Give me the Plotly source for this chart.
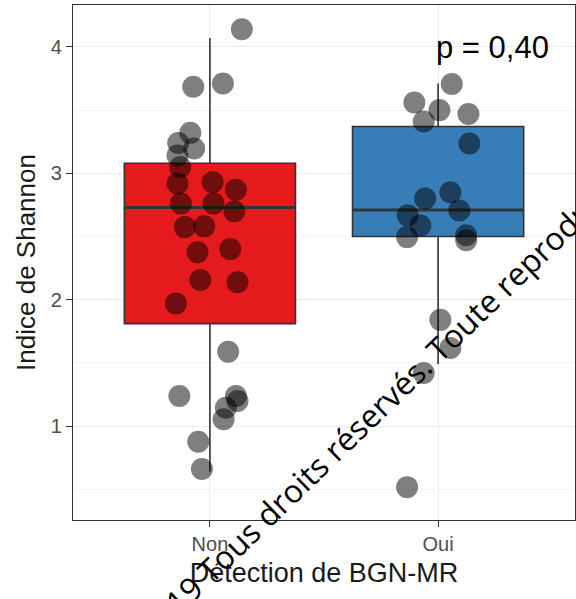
import plotly.graph_objects as go

# ---- data ----
categories = ["Non", "Oui"]

non_values = [4.14, 3.685, 3.71, 3.32, 3.24, 3.196, 3.14, 3.05,
              2.92, 2.93, 2.87, 2.76, 2.76, 2.70, 2.574, 2.58, 2.375, 2.40,
              2.156, 2.137, 1.97,
              1.587, 1.238, 1.238, 1.198, 1.145, 1.053, 0.875, 0.66]
non_jitter = [0.14, -0.073, 0.057, -0.086, -0.139, -0.069, -0.142, -0.13,
              -0.142, 0.012, 0.114, -0.127, 0.016, 0.107, -0.11, -0.025, -0.054, 0.089,
              -0.042, 0.121, -0.149,
              0.08, -0.134, 0.114, 0.121, 0.07, 0.06, -0.051, -0.035]

oui_values = [3.706, 3.56, 3.5, 3.47, 3.41, 3.236, 2.85, 2.80, 2.706, 2.667,
              2.587, 2.495, 2.51, 2.47, 1.84, 1.617, 1.42, 0.516]
oui_jitter = [0.06, -0.104, 0.006, 0.133, -0.063, 0.137, 0.054, -0.057, 0.093, -0.133,
              -0.078, -0.136, 0.123, 0.123, 0.01, 0.054, -0.063, -0.136]

# box statistics
q1 = [1.81, 2.50]
median = [2.73, 2.71]
q3 = [3.08, 3.37]
lowerfence = [0.64, 1.49]
upperfence = [4.07, 3.71]

box_colors = ["#E41A1C", "#377EB8"]
p_label = "p = 0,40"
x_title = "Détection de BGN-MR"
y_title = "Indice de Shannon"
y_ticks = [1, 2, 3, 4]
y_minor = [0.5, 1.5, 2.5, 3.5]
watermark = "© 2019 Tous droits réservés. Toute reproduction"

fig = go.Figure()

for i, cat in enumerate(categories):
    fig.add_trace(go.Box(
        x=[i], q1=[q1[i]], median=[median[i]], q3=[q3[i]],
        lowerfence=[lowerfence[i]], upperfence=[upperfence[i]],
        width=0.75, whiskerwidth=0,
        fillcolor=box_colors[i],
        line=dict(color="#333333", width=1.6),
        boxpoints=False, showlegend=False, hoverinfo="skip",
    ))
    # thicker median line (ggplot fatten)
    fig.add_trace(go.Scatter(
        x=[i - 0.375, i + 0.375], y=[median[i], median[i]],
        mode="lines", line=dict(color="#333333", width=3),
        showlegend=False, hoverinfo="skip",
    ))

all_vals = [non_values, oui_values]
all_jit = [non_jitter, oui_jitter]
for i in range(2):
    fig.add_trace(go.Scatter(
        x=[i + j for j in all_jit[i]], y=all_vals[i],
        mode="markers",
        marker=dict(size=22, color="rgba(0,0,0,0.5)", line=dict(width=0)),
        showlegend=False, hoverinfo="skip",
    ))

font_family = "Liberation Sans, Arial, sans-serif"

fig.update_layout(
    width=576, height=599,
    margin=dict(l=73, r=1, t=5, b=79),
    paper_bgcolor="white", plot_bgcolor="white",
    font=dict(family=font_family, color="#1a1a1a"),
    xaxis=dict(
        range=[-0.6, 1.6], tickvals=[0, 1], ticktext=categories,
        showgrid=True, gridcolor="#EBEBEB", gridwidth=1.3,
        showline=True, mirror=True, linecolor="#333333", linewidth=1.3,
        ticks="outside", ticklen=6, tickcolor="#333333", tickwidth=1.3,
        tickfont=dict(size=20, color="#4D4D4D"),
        title=dict(text=x_title, font=dict(size=27, color="#1a1a1a"), standoff=8),
        zeroline=False,
    ),
    yaxis=dict(
        range=[0.256, 4.332], tickvals=y_ticks,
        showgrid=True, gridcolor="#EBEBEB", gridwidth=1.3,
        minor=dict(tickvals=y_minor, showgrid=True, gridcolor="#F2F2F2", gridwidth=1),
        showline=True, mirror=True, linecolor="#333333", linewidth=1.3,
        ticks="outside", ticklen=6, tickcolor="#333333", tickwidth=1.3,
        tickfont=dict(size=20, color="#4D4D4D"),
        title=dict(text=y_title, font=dict(size=26, color="#1a1a1a"), standoff=7),
        zeroline=False,
    ),
    annotations=[
        dict(text=p_label, x=1.237, y=3.996, xref="x", yref="y",
             showarrow=False, xanchor="center", yanchor="middle",
             font=dict(size=31, color="black", family=font_family)),
        dict(text=watermark,
             x=(379 - 73) / 502, y=(520 - 405) / 515, xref="paper", yref="paper",
             showarrow=False, xanchor="center", yanchor="middle", textangle=-44,
             font=dict(size=32, color="black", family="Open Sans, sans-serif")),
    ],
)

fig.write_html("out.html")
